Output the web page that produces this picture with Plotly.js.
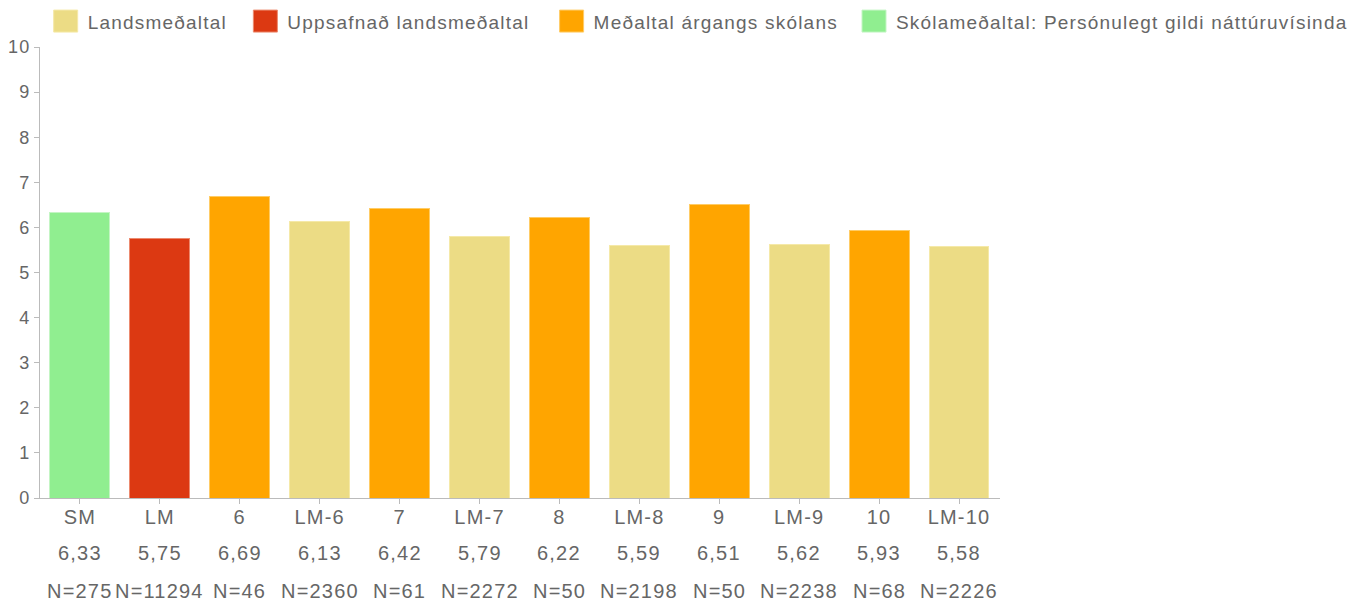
<!DOCTYPE html>
<html><head><meta charset="utf-8">
<script src="https://cdn.plot.ly/plotly-3.0.1.min.js"></script>
<style>
html,body{margin:0;padding:0;background:#fff}
#chart{width:1371px;height:603px}
svg text{letter-spacing:1.2px}
</style>
</head><body><div id="chart"></div>
<script>
const categories = ["SM","LM","6","LM-6","7","LM-7","8","LM-8","9","LM-9","10","LM-10"];
const values = [6.33,5.75,6.69,6.13,6.42,5.79,6.22,5.59,6.51,5.62,5.93,5.58];
const counts = [275,11294,46,2360,61,2272,50,2198,50,2238,68,2226];
const seriesNames = ["Landsmeðaltal","Uppsafnað landsmeðaltal","Meðaltal árgangs skólans","Skólameðaltal: Persónulegt gildi náttúruvísinda"];
const seriesOf = [3,1,2,0,2,0,2,0,2,0,2,0];
const colors = ["#ecdc85","#dc3912","#ffa500","#90ee90"];
const edge = ["#f5e9a8","#ec8a6f","#ffcc66","#c4f5c4"];
const legendIds = ["legend","legend2","legend3","legend4"];
const legendX = [0.008,0.216,0.535,0.850];

const fmt = v => v.toFixed(2).replace('.', ',');
const traces = seriesNames.map((name, s) => {
  const xs = [], ys = [];
  categories.forEach((c, i) => { if (seriesOf[i] === s) { xs.push(c); ys.push(values[i]); } });
  return {type:'bar', name, legend:legendIds[s], x:xs, y:ys, marker:{color:colors[s], line:{color:edge[s], width:1}}, hoverinfo:'x+y'};
});

const font = {family:'Liberation Sans, Arial, sans-serif', color:'#666'};
const annotations = [];
categories.forEach((c, i) => {
  annotations.push({xref:'x', yref:'paper', x:i, y:0, yanchor:'middle', yshift:-55, showarrow:false, text:fmt(values[i]), font:{...font, size:20}});
  annotations.push({xref:'x', yref:'paper', x:i, y:0, yanchor:'middle', yshift:-93, showarrow:false, text:'N=' + counts[i], font:{...font, size:20}});
});

const legendBase = {orientation:'h', xanchor:'left', y:1.015, yanchor:'bottom', font:{...font, size:19}, traceorder:'normal', itemwidth:30};
const layout = {
  width:1371, height:603,
  margin:{l:40, r:371, t:47, b:105, autoexpand:false},
  paper_bgcolor:'#fff', plot_bgcolor:'#fff',
  barmode:'stack', bargap:0.25,
  font:font,
  showlegend:true,
  xaxis:{type:'category', categoryorder:'array', categoryarray:categories, showline:true, linecolor:'#bbb', linewidth:1, ticks:'outside', ticklen:5, tickcolor:'#bbb', tickfont:{...font, size:20}, ticklabelstandoff:-4, showgrid:false, zeroline:false, fixedrange:true},
  yaxis:{range:[0,10], dtick:1, showline:true, linecolor:'#bbb', linewidth:1, ticks:'outside', ticklen:5, tickcolor:'#bbb', tickfont:{...font, size:18}, showgrid:false, zeroline:false, fixedrange:true},
  annotations
};
legendIds.forEach((id, k) => { layout[id] = {...legendBase, x:legendX[k]}; });
Plotly.newPlot('chart', traces, layout, {displayModeBar:false, staticPlot:true}).then(gd => {
  // enlarge legend swatches to match the reference's square keys
  gd.querySelectorAll('.legendpoints path').forEach(p => p.setAttribute('d', 'M10,11H-14V-11H10Z'));
});
</script></body></html>
